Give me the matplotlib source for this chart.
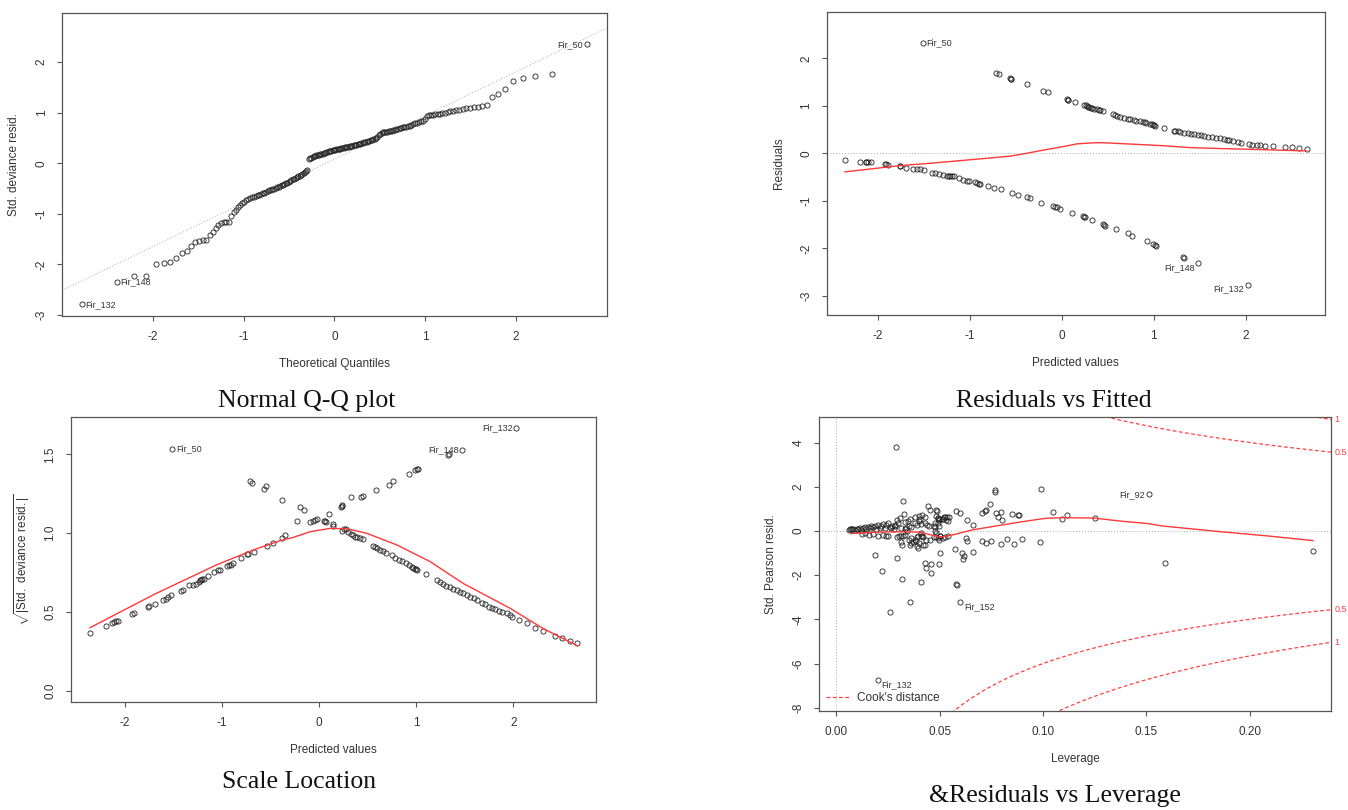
import numpy as np
import matplotlib
matplotlib.use('Agg')
import matplotlib.pyplot as plt
from statistics import NormalDist

plt.rcParams['font.family'] = ['Liberation Sans', 'DejaVu Sans']
plt.rcParams['mathtext.fontset'] = 'custom'
plt.rcParams['mathtext.rm'] = 'Liberation Sans'

# ---- data ----

# Normal Q-Q: sorted std. deviance residuals (n = 184)
qq_resid = [
    -2.79, -2.34, -2.23, -2.23, -2.00, -1.98, -1.96, -1.88, -1.78, -1.73,
    -1.63, -1.56, -1.53, -1.52, -1.52, -1.42, -1.35, -1.29, -1.22, -1.18,
    -1.165, -1.16, -1.155, -1.05, -0.97, -0.93, -0.87, -0.83, -0.79, -0.76,
    -0.73, -0.71, -0.69, -0.675, -0.66, -0.645, -0.63, -0.62, -0.61, -0.595,
    -0.58, -0.565, -0.55, -0.535, -0.52, -0.51, -0.50, -0.49, -0.475, -0.46,
    -0.45, -0.44, -0.43, -0.415, -0.40, -0.385, -0.37, -0.355, -0.34, -0.32,
    -0.305, -0.29, -0.275, -0.26, -0.245, -0.23, -0.215, -0.19, -0.18, -0.16, -0.13,
    0.09, 0.10, 0.11, 0.13, 0.14, 0.15, 0.16, 0.165, 0.17, 0.18,
    0.185, 0.19, 0.20, 0.21, 0.22, 0.23, 0.24, 0.245, 0.25, 0.26,
    0.265, 0.27, 0.275, 0.28, 0.285, 0.29, 0.30, 0.305, 0.31, 0.315,
    0.32, 0.325, 0.33, 0.34, 0.345, 0.35, 0.355, 0.36, 0.37, 0.375,
    0.38, 0.39, 0.40, 0.405, 0.41, 0.42, 0.425, 0.43, 0.44, 0.45,
    0.46, 0.47, 0.48, 0.50, 0.52, 0.55, 0.58, 0.60, 0.61, 0.61,
    0.62, 0.62, 0.63, 0.635, 0.64, 0.65, 0.66, 0.67, 0.68, 0.69,
    0.70, 0.71, 0.715,
    0.72, 0.735, 0.745, 0.76, 0.77, 0.79, 0.80, 0.815, 0.83, 0.84,
    0.88, 0.93, 0.95, 0.955, 0.96, 0.965, 0.97, 0.98, 0.99, 1.00,
    1.01, 1.025, 1.035, 1.045, 1.06, 1.07, 1.085, 1.10, 1.11, 1.12, 1.135, 1.145,
    1.30, 1.36, 1.46, 1.63, 1.69, 1.72, 1.77, 2.35,
]
qq_ids = {0: 'Fir_132', 1: 'Fir_148', 183: 'Fir_50'}

# Residuals vs Fitted
fit_lower = [
    (-2.353, -0.14), (-2.19, -0.18), (-2.13, -0.19), (-2.12, -0.19), (-2.10, -0.19), (-2.07, -0.19),
    (-1.92, -0.23), (-1.91, -0.235), (-1.89, -0.24), (-1.76, -0.27), (-1.755, -0.275), (-1.69, -0.31),
    (-1.61, -0.33), (-1.57, -0.34), (-1.54, -0.34), (-1.50, -0.35), (-1.41, -0.41), (-1.376, -0.42),
    (-1.33, -0.44), (-1.29, -0.46), (-1.25, -0.47), (-1.22, -0.47), (-1.21, -0.475), (-1.19, -0.48),
    (-1.17, -0.48), (-1.12, -0.53), (-1.07, -0.56), (-1.03, -0.58), (-1.01, -0.58), (-0.94, -0.61),
    (-0.92, -0.63), (-0.90, -0.64), (-0.89, -0.65), (-0.80, -0.68), (-0.73, -0.72), (-0.66, -0.76),
    (-0.54, -0.83), (-0.47, -0.87), (-0.38, -0.93), (-0.34, -0.95), (-0.22, -1.04), (-0.09, -1.11),
    (-0.07, -1.12), (-0.05, -1.13), (-0.02, -1.17), (0.11, -1.25), (0.23, -1.33), (0.24, -1.34),
    (0.25, -1.35), (0.33, -1.40), (0.445, -1.49), (0.46, -1.50), (0.47, -1.52), (0.59, -1.59),
    (0.72, -1.68), (0.76, -1.74), (0.93, -1.85), (0.99, -1.91), (1.01, -1.93), (1.02, -1.95),
    (1.32, -2.18), (1.33, -2.20),
]
fit_upper = [
    (-0.71, 1.70), (-0.68, 1.66), (-0.56, 1.58), (-0.555, 1.57), (-0.55, 1.56), (-0.38, 1.45),
    (-0.20, 1.32), (-0.145, 1.29), (0.06, 1.14), (0.065, 1.13), (0.07, 1.12), (0.14, 1.08),
    (0.24, 1.02), (0.26, 1.01), (0.27, 1.00), (0.29, 0.98), (0.30, 0.97), (0.32, 0.96),
    (0.33, 0.95), (0.35, 0.94), (0.38, 0.93), (0.40, 0.92), (0.42, 0.905), (0.445, 0.89),
    (0.56, 0.82), (0.58, 0.81), (0.60, 0.79), (0.63, 0.76), (0.68, 0.75), (0.72, 0.73),
    (0.74, 0.72), (0.78, 0.71), (0.81, 0.69), (0.85, 0.68), (0.88, 0.66), (0.90, 0.65),
    (0.92, 0.64), (0.96, 0.62), (0.98, 0.61), (0.99, 0.60), (1.00, 0.59), (1.01, 0.57),
    (1.11, 0.54), (1.22, 0.48), (1.23, 0.475), (1.26, 0.46), (1.29, 0.45), (1.33, 0.43),
    (1.37, 0.42), (1.40, 0.41), (1.44, 0.40), (1.48, 0.385), (1.51, 0.38), (1.55, 0.365),
    (1.59, 0.35), (1.63, 0.34), (1.68, 0.32), (1.72, 0.32), (1.76, 0.30), (1.80, 0.29),
    (1.82, 0.28), (1.86, 0.25), (1.92, 0.24), (1.95, 0.22), (2.03, 0.20), (2.07, 0.18),
    (2.12, 0.17), (2.15, 0.17), (2.21, 0.16), (2.30, 0.154), (2.43, 0.13), (2.50, 0.13),
    (2.58, 0.105), (2.66, 0.09),
]
fit_ids = [(-1.51, 2.33, 'Fir_50'), (1.48, -2.31, 'Fir_148'), (2.02, -2.77, 'Fir_132')]
fit_smooth = [
    (-2.353, -0.39), (-1.76, -0.26), (-1.43, -0.21), (-0.96, -0.13), (-0.56, -0.06),
    (-0.38, 0.0), (-0.235, 0.055), (0.054, 0.155), (0.17, 0.20), (0.34, 0.22),
    (0.42, 0.225), (0.74, 0.195), (1.10, 0.16), (1.39, 0.12), (1.72, 0.10),
    (2.04, 0.085), (2.66, 0.05),
]

# Scale-Location
sl_rising = [
    (-2.356, 0.364), (-2.195, 0.41), (-2.13, 0.43), (-2.11, 0.435), (-2.09, 0.44), (-2.07, 0.445),
    (-1.92, 0.485), (-1.90, 0.49), (-1.76, 0.53), (-1.75, 0.535), (-1.69, 0.55), (-1.61, 0.575),
    (-1.57, 0.585), (-1.55, 0.597), (-1.52, 0.607), (-1.42, 0.635), (-1.40, 0.64), (-1.334, 0.67),
    (-1.30, 0.67), (-1.27, 0.68), (-1.24, 0.69), (-1.22, 0.70), (-1.21, 0.705), (-1.20, 0.71),
    (-1.185, 0.71), (-1.14, 0.73), (-1.08, 0.755), (-1.04, 0.766), (-1.02, 0.766), (-0.95, 0.79),
    (-0.93, 0.80), (-0.905, 0.80), (-0.89, 0.81), (-0.80, 0.845), (-0.74, 0.865), (-0.73, 0.87),
    (-0.665, 0.88), (-0.54, 0.92), (-0.47, 0.94), (-0.38, 0.97), (-0.35, 0.985), (-0.23, 1.08),
    (-0.09, 1.07), (-0.06, 1.08), (-0.04, 1.085), (-0.02, 1.09), (0.106, 1.12), (0.226, 1.164),
    (0.235, 1.17), (0.24, 1.176), (0.326, 1.23), (0.43, 1.227), (0.45, 1.237), (0.586, 1.273),
    (0.717, 1.307), (0.765, 1.33), (0.93, 1.375), (0.99, 1.40), (1.005, 1.405), (1.02, 1.41),
    (1.33, 1.495), (1.335, 1.50),
]
sl_falling = [
    (-0.71, 1.333), (-0.686, 1.316), (-0.563, 1.28), (-0.55, 1.30), (-0.38, 1.208), (-0.195, 1.164),
    (-0.15, 1.145), (0.055, 1.077), (0.06, 1.075), (0.07, 1.07), (0.14, 1.056), (0.147, 1.047),
    (0.233, 1.013), (0.257, 1.024), (0.278, 1.026), (0.30, 1.007), (0.326, 0.994), (0.347, 0.988),
    (0.37, 0.977), (0.394, 0.973), (0.42, 0.967), (0.45, 0.963), (0.55, 0.918), (0.58, 0.91),
    (0.60, 0.904), (0.63, 0.893), (0.655, 0.886), (0.69, 0.876), (0.75, 0.861), (0.78, 0.84),
    (0.82, 0.83), (0.855, 0.82), (0.89, 0.81), (0.92, 0.80), (0.955, 0.787), (0.97, 0.78),
    (0.99, 0.772), (1.00, 0.77), (1.005, 0.766), (1.10, 0.738), (1.21, 0.702), (1.24, 0.69),
    (1.28, 0.677), (1.31, 0.666), (1.35, 0.656), (1.38, 0.647), (1.42, 0.639), (1.45, 0.628),
    (1.48, 0.618), (1.52, 0.607), (1.55, 0.597), (1.59, 0.586), (1.62, 0.575), (1.674, 0.558),
    (1.71, 0.548), (1.745, 0.533), (1.78, 0.523), (1.81, 0.516), (1.85, 0.506), (1.88, 0.497),
    (1.93, 0.491), (1.96, 0.48), (1.98, 0.47), (2.06, 0.449), (2.14, 0.428), (2.22, 0.40),
    (2.30, 0.38), (2.43, 0.347), (2.50, 0.332), (2.58, 0.317), (2.655, 0.30),
]
sl_ids = [(-1.51, 1.534, 'Fir_50'), (1.47, 1.527, 'Fir_148'), (2.03, 1.669, 'Fir_132')]
sl_smooth = [
    (-2.356, 0.40), (-1.687, 0.614), (-1.05, 0.80), (-0.66, 0.897), (-0.40, 0.952),
    (-0.264, 0.973), (-0.093, 1.009), (0.113, 1.03), (0.285, 1.028), (0.49, 0.999),
    (0.80, 0.925), (1.14, 0.82), (1.485, 0.68), (1.965, 0.523), (2.30, 0.396), (2.655, 0.286),
]

# Residuals vs Leverage
lev_points = [
    (0.0288, 3.80), (0.0321, 1.37), (0.0188, -1.10), (0.0292, -1.22), (0.0221, -1.82), (0.0318, -2.17),
    (0.041, -2.32), (0.0356, -3.21), (0.026, -3.65), (0.0578, -2.42), (0.0583, -2.44), (0.0459, -1.90),
    (0.043, -1.45), (0.0435, -1.67), (0.0459, -1.49), (0.0494, -1.49), (0.05, -1.0), (0.0574, -0.80),
    (0.0607, -0.99), (0.0618, -1.15), (0.0614, -1.27), (0.0663, -0.96), (0.0627, -0.32), (0.063, -0.47),
    (0.0706, -0.47), (0.0722, -0.54), (0.075, -0.44), (0.0798, -0.57), (0.0823, -0.36), (0.086, -0.57),
    (0.09, -0.36), (0.0986, -0.51), (0.099, 1.88), (0.0765, 1.83), (0.0765, 1.74), (0.0744, 1.22),
    (0.0717, 0.91), (0.0724, 0.96), (0.0706, 0.81), (0.0773, 0.81), (0.0794, 0.84), (0.078, 0.61),
    (0.08, 0.51), (0.0847, 0.77), (0.0878, 0.74), (0.0885, 0.74), (0.105, 0.85), (0.109, 0.54),
    (0.1116, 0.74), (0.125, 0.59), (0.1592, -1.43), (0.2306, -0.93), (0.058, 0.88), (0.060, 0.81),
    (0.063, 0.51), (0.066, 0.28), (0.0545, 0.63), (0.0527, 0.63), (0.0517, 0.54),
    (0.0521, 0.63), (0.0534, 0.63), (0.051, 0.54), (0.053, 0.48), (0.0542, 0.43), (0.0483, 0.96),
    (0.0486, 0.88), (0.0483, 0.69), (0.0491, 0.59), (0.0497, 0.54), (0.0442, 1.14), (0.0453, 0.93),
    (0.0416, 0.74), (0.0426, 0.63), (0.0381, 0.63), (0.0397, 0.69), (0.0405, 0.54), (0.0356, 0.54),
    (0.0345, 0.43), (0.0332, 0.39), (0.0381, 0.36), (0.0389, 0.28), (0.0400, 0.43), (0.0329, 0.77),
    (0.0308, 0.59), (0.0292, 0.48), (0.030, 0.36), (0.0284, 0.28), (0.0271, 0.24), (0.0251, 0.36),
    (0.0239, 0.28), (0.0227, 0.33), (0.0216, 0.24), (0.0203, 0.28), (0.0187, 0.21), (0.0178, 0.18),
    (0.0167, 0.21), (0.0154, 0.16), (0.0138, 0.18), (0.0127, 0.14), (0.0114, 0.14), (0.0098, 0.10),
    (0.0081, 0.09), (0.007, 0.09), (0.0061, 0.06), (0.0065, 0.07), (0.0075, 0.08), (0.0090, 0.05),
    (0.0105, 0.08), (0.012, 0.05), (0.0145, 0.10), (0.016, 0.12), (0.019, 0.08), (0.021, 0.15),
    (0.0235, 0.12), (0.026, 0.16), (0.028, 0.10), (0.031, 0.12), (0.0333, 0.09), (0.0349, 0.21),
    (0.0362, 0.18), (0.0409, 0.31), (0.0429, 0.36), (0.0437, 0.28), (0.047, 0.21), (0.0475, 0.36),
    (0.0475, 0.18), (0.0448, 0.24), (0.0489, 0.58), (0.0497, 0.51), (0.049, 0.36), (0.0497, 0.24),
    (0.0122, -0.12), (0.0138, -0.09), (0.0157, -0.17), (0.0178, -0.12), (0.0199, -0.21), (0.0226, -0.17),
    (0.0238, -0.24), (0.0247, -0.21), (0.0291, -0.29), (0.0302, -0.24), (0.0312, -0.21), (0.0323, -0.24),
    (0.0350, -0.39), (0.0363, -0.32), (0.0380, -0.39), (0.0388, -0.27), (0.0396, -0.21), (0.0409, -0.24),
    (0.0355, -0.62), (0.0388, -0.69), (0.0396, -0.77), (0.0363, -0.54), (0.0372, -0.51), (0.0421, -0.66),
    (0.0429, -0.62), (0.0453, -0.39), (0.047, -0.29), (0.0481, -0.27), (0.0491, -0.32), (0.0502, -0.24),
    (0.0515, -0.32), (0.0526, -0.27), (0.0539, -0.21), (0.0494, -0.42), (0.0312, -0.51), (0.0318, -0.62),
    (0.0408, -0.09), (0.0413, -0.24), (0.0421, -0.27), (0.0432, -0.39), (0.0398, -0.54), (0.0383, -0.47),
    (0.0499, -0.21), (0.0481, -0.09), (0.0475, -0.02), (0.0330, -0.17), (0.0336, 0.13), (0.0342, -0.02),
    (0.0282, 0.21), (0.0265, 0.13),
]
lev_ids = [(0.151, 1.65, 'Fir_92'), (0.060, -3.21, 'Fir_152'), (0.020, -6.76, 'Fir_132')]
lev_smooth = [
    (0.0069, -0.12), (0.0179, -0.06), (0.0288, -0.04), (0.0398, -0.05), (0.0453, -0.17),
    (0.0504, -0.28), (0.0563, -0.18), (0.0655, 0.04), (0.0744, 0.18), (0.0874, 0.38),
    (0.101, 0.57), (0.110, 0.60), (0.1245, 0.58), (0.139, 0.43), (0.150, 0.34),
    (0.158, 0.22), (0.184, -0.02), (0.210, -0.24), (0.2306, -0.44),
]
cook_levels = [0.5, 1]
n_params = 8

captions = ['Normal Q-Q plot', 'Residuals vs Fitted', 'Scale Location', '&Residuals vs Leverage']

# ---- drawing ----
TXT = '#333333'
PT = dict(ls='none', marker='o', ms=3.7, mfc='none', mec='#222222', mew=0.6)
SMOOTH = dict(color='#ff3838', lw=1.0)
REF = dict(color='#aaaaaa', lw=0.7, ls=(0, (1, 2)))

fig = plt.figure(figsize=(13.48, 8.10), dpi=100)
ax1 = fig.add_axes([0.0462, 0.6099, 0.4038, 0.3744])
ax2 = fig.add_axes([0.6132, 0.6111, 0.3695, 0.3737])
ax3 = fig.add_axes([0.0524, 0.1333, 0.3901, 0.3515])
ax4 = fig.add_axes([0.6075, 0.1222, 0.3802, 0.3626])


def r_style(ax, xticks, yticks, xfmt='{:g}', yfmt='{:g}'):
    for s in ax.spines.values():
        s.set_color('#555555')
        s.set_linewidth(0.9)
    ax.set_xticks(xticks)
    ax.set_yticks(yticks)
    ax.set_xticklabels([xfmt.format(v) for v in xticks])
    ax.set_yticklabels([yfmt.format(v) for v in yticks])
    ax.tick_params(direction='out', length=3.5, width=0.8, pad=7, labelsize=8.5,
                   color='#555555', labelcolor=TXT)
    plt.setp(ax.get_yticklabels(), rotation=90, va='center')


def label_ids(ax, ids, sides, dys):
    for (x, y, name), side, dy in zip(ids, sides, dys):
        ax.plot([x], [y], **PT)
        ax.annotate(name, (x, y), xytext=(2.5 * side, dy), textcoords='offset points',
                    ha='left' if side > 0 else 'right', va='center', fontsize=6.5, color=TXT)


def unzip(pairs):
    return [p[0] for p in pairs], [p[1] for p in pairs]


# Normal Q-Q
n = len(qq_resid)
theo = [NormalDist().inv_cdf((i + 0.5) / n) for i in range(n)]
q_y = np.quantile(qq_resid, [0.25, 0.75])
q_x = [NormalDist().inv_cdf(0.25), NormalDist().inv_cdf(0.75)]
slope = (q_y[1] - q_y[0]) / (q_x[1] - q_x[0])
ax1.axline((0, q_y[0] - slope * q_x[0]), slope=slope, **REF)
ax1.plot(theo, qq_resid, **PT)
for idx, name in qq_ids.items():
    side = -1 if theo[idx] > 0 else 1
    ax1.annotate(name, (theo[idx], qq_resid[idx]), xytext=(2.5 * side, 0), textcoords='offset points',
                 ha='left' if side > 0 else 'right', va='center', fontsize=6.5, color=TXT)
ax1.set_xlim(-3.0, 3.0)
ax1.set_ylim(-3.02, 2.976)
r_style(ax1, [-2, -1, 0, 1, 2], [-3, -2, -1, 0, 1, 2])
ax1.set_xlabel('Theoretical Quantiles', fontsize=8.5, color=TXT, labelpad=11)
ax1.set_ylabel('Std. deviance resid.', fontsize=8.5, color=TXT, labelpad=11)

# Residuals vs Fitted
ax2.axhline(0, **REF)
for branch in (fit_lower, fit_upper):
    bx, by = unzip(branch)
    ax2.plot(bx, by, **PT)
label_ids(ax2, fit_ids, [1, -1, -1], [0, -3, -3])
sx, sy = unzip(fit_smooth)
ax2.plot(sx, sy, **SMOOTH)
ax2.set_xlim(-2.553, 2.856)
ax2.set_ylim(-3.404, 2.968)
r_style(ax2, [-2, -1, 0, 1, 2], [-3, -2, -1, 0, 1, 2])
ax2.set_xlabel('Predicted values', fontsize=8.5, color=TXT, labelpad=11)
ax2.set_ylabel('Residuals', fontsize=8.5, color=TXT, labelpad=11)

# Scale-Location
for branch in (sl_rising, sl_falling):
    bx, by = unzip(branch)
    ax3.plot(bx, by, **PT)
label_ids(ax3, sl_ids, [1, -1, -1], [0, 0, 0])
sx, sy = unzip(sl_smooth)
ax3.plot(sx, sy, **SMOOTH)
ax3.set_xlim(-2.556, 2.854)
ax3.set_ylim(-0.072, 1.735)
r_style(ax3, [-2, -1, 0, 1, 2], [0.0, 0.5, 1.0, 1.5], yfmt='{:.1f}')
ax3.set_xlabel('Predicted values', fontsize=8.5, color=TXT, labelpad=11)
ax3.set_ylabel(r'$\sqrt{|\mathrm{Std.\ deviance\ resid.}|}$', fontsize=8.5, color=TXT, labelpad=9)

# Residuals vs Leverage
ax4.axhline(0, **REF)
ax4.axvline(0, **REF)
lx, ly = unzip(lev_points)
ax4.plot(lx, ly, **PT)
label_ids(ax4, lev_ids, [-1, 1, 1], [0, -3.5, -3.5])
sx, sy = unzip(lev_smooth)
ax4.plot(sx, sy, **SMOOTH)
x_hi = 0.2395
hh = np.linspace(0.002, x_hi, 101)
for lev in cook_levels:
    cl = np.sqrt(lev * n_params * (1 - hh) / hh)
    line, = ax4.plot(hh, cl, color='#ff4040', lw=0.9, ls=(0, (3, 2)))
    ax4.plot(hh, -cl, color='#ff4040', lw=0.9, ls=(0, (3, 2)))
    edge = np.sqrt(lev * n_params * (1 - x_hi) / x_hi)
    for v in (edge, -edge):
        ax4.text(1.006, v, f'{lev:g}', transform=ax4.get_yaxis_transform(), color='#ff4040',
                 fontsize=6.5, ha='left', va='center', clip_on=False)
ax4.legend([line], ["Cook's distance"], loc='lower left', frameon=False, fontsize=8.5,
           handlelength=2.0, handletextpad=0.6, borderaxespad=0.2, labelcolor=TXT)
ax4.set_xlim(-0.0085, x_hi)
ax4.set_ylim(-8.15, 5.14)
r_style(ax4, [0.0, 0.05, 0.10, 0.15, 0.20], [-8, -6, -4, -2, 0, 2, 4], xfmt='{:.2f}')
ax4.set_xlabel('Leverage', fontsize=8.5, color=TXT, labelpad=11)
ax4.set_ylabel('Std. Pearson resid.', fontsize=8.5, color=TXT, labelpad=11)

# captions under each panel
cap_pos = [(307, 401), (1054, 401), (299, 782), (1055, 796)]
for (px, py), cap in zip(cap_pos, captions):
    fig.text(px / 1348, 1 - py / 810, cap, ha='center', va='center', fontsize=18.5,
             family='Liberation Serif', color='#111111')

fig.savefig('out.png', dpi=100, facecolor='white')
